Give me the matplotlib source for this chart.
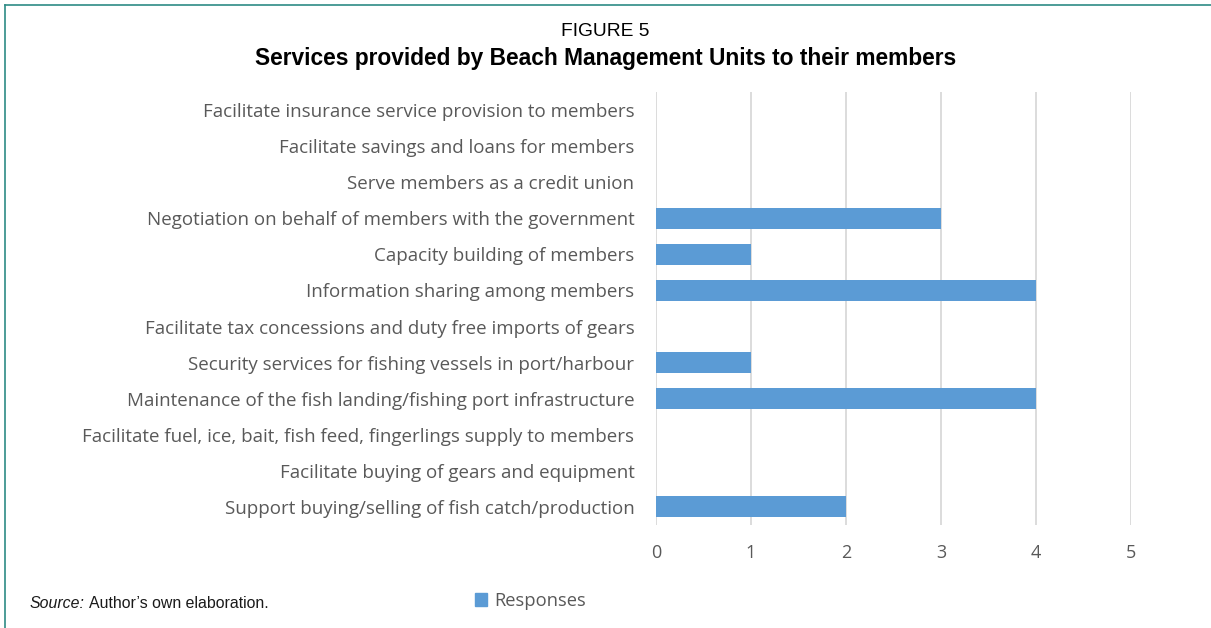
import numpy as np
import matplotlib.pyplot as plt
from matplotlib.lines import Line2D
from matplotlib.patches import Patch

services = [
    'Support buying/selling of fish catch/production',
    'Facilitate buying of gears and equipment',
    'Facilitate fuel, ice, bait, fish feed, fingerlings supply to members',
    'Maintenance of the fish landing/fishing port infrastructure',
    'Security services for fishing vessels in port/harbour',
    'Facilitate tax concessions and duty free imports of gears',
    'Information sharing among members',
    'Capacity building of members',
    'Negotiation on behalf of members with the government',
    'Serve members as a credit union',
    'Facilitate savings and loans for members',
    'Facilitate insurance service provision to members',
]
responses = [2, 0, 0, 4, 1, 0, 4, 1, 3, 0, 0, 0]
xticks = [0, 1, 2, 3, 4, 5]

bar_color = '#5b9bd5'
text_gray = '#595959'
grid_gray = '#d9d9d9'
frame_color = '#2e8b85'

fig = plt.figure(figsize=(12.11, 6.28), dpi=100)
ax = fig.add_axes([656 / 1211, 1 - 525 / 628, (1131 - 656) / 1211, (525 - 92) / 628])

y = np.arange(len(services))
ax.barh(y, responses, height=0.58, color=bar_color, linewidth=0, zorder=3)

ax.set_xlim(0, 5)
ax.set_ylim(-0.5, len(services) - 0.5)
ax.set_xticks(xticks)
ax.set_yticks(y)
ax.set_yticklabels(services, fontfamily='Open Sans', fontsize=13.5, color=text_gray)
ax.set_xticklabels([str(t) for t in xticks], fontfamily='Open Sans', fontsize=13, color=text_gray)
ax.tick_params(axis='y', length=0, pad=15.5)
ax.tick_params(axis='x', length=0, pad=14)
ax.grid(axis='x', color=grid_gray, linewidth=1.3, zorder=0)
for s in ax.spines.values():
    s.set_visible(False)

fig.text(0.5, 1 - 31 / 628, 'FIGURE 5', ha='center', va='center',
         fontfamily='Liberation Sans', fontsize=13.8, color='black')
fig.text(0.5, 1 - 59 / 628, 'Services provided by Beach Management Units to their members',
         ha='center', va='center', fontfamily='Liberation Sans', fontsize=16.4,
         fontweight='bold', color='black')

# source note: italic label followed by plain text
src = fig.text(30 / 1211, 1 - 603 / 628, 'Source:', ha='left', va='center',
               fontfamily='Liberation Sans', fontsize=11.4, fontstyle='italic', color='#1a1a1a')
ax.annotate('Author’s own elaboration.', xy=(1, 0.5), xycoords=src,
            xytext=(3, 0), textcoords='offset points', ha='left', va='center',
            fontfamily='Liberation Sans', fontsize=11.4, color='#1a1a1a',
            annotation_clip=False)

fig.legend(handles=[Patch(facecolor=bar_color, edgecolor=bar_color, label='Responses')],
           loc='center left', bbox_to_anchor=(466 / 1211, 1 - 601 / 628), frameon=False,
           prop={'family': 'Open Sans', 'size': 13.2}, labelcolor=text_gray,
           handlelength=0.65, handleheight=0.65, handletextpad=0.4, borderpad=0)

# teal frame along the top and left edges
fig.add_artist(Line2D([5 / 1211, 1], [1 - 5 / 628, 1 - 5 / 628], color=frame_color, linewidth=1.2))
fig.add_artist(Line2D([5 / 1211, 5 / 1211], [0, 1 - 5 / 628], color=frame_color, linewidth=1.2))

fig.savefig('out.png', dpi=100)
